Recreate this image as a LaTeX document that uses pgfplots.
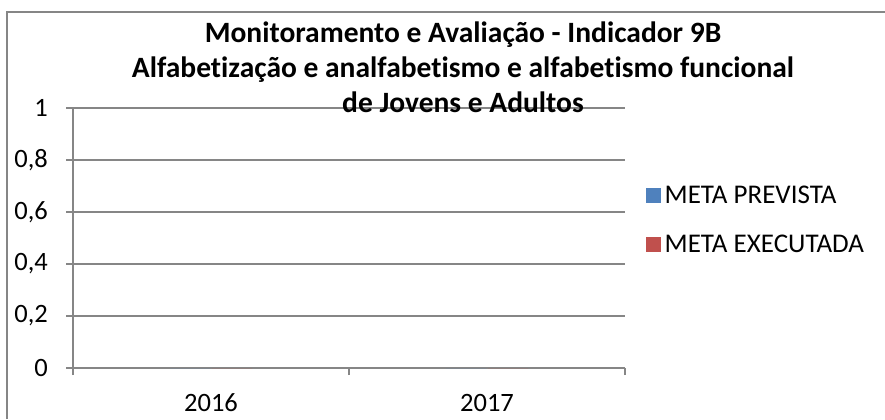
\documentclass[border=0pt]{standalone}
\usepackage{fontspec}
\setmainfont{Carlito}[Ligatures=NoCommon]
\usepackage{pgfplots}
\pgfplotsset{compat=1.18}
\definecolor{axgray}{HTML}{868686}
\definecolor{serA}{HTML}{4F81BD}
\definecolor{serB}{HTML}{C0504D}
\begin{document}
\begin{tikzpicture}[x=1bp,y=1bp,font=\fontsize{26.5bp}{31bp}\selectfont]
\useasboundingbox (0,0) rectangle (885,419);
\draw[axgray, line width=1.5bp] (7,0) -- (7,407) -- (885,407);
\begin{axis}[
  at={(73bp,51bp)}, anchor=south west,
  scale only axis, width=552bp, height=260bp,
  xmin=0, xmax=2, ymin=0, ymax=1,
  axis x line*=bottom, axis y line*=left,
  axis line style={axgray, line width=1.3bp},
  xtick={0,1,2}, xticklabels={},
  extra x ticks={0.5,1.5}, extra x tick labels={2016,2017},
  extra x tick style={major tick length=0pt, grid=none},
  ytick={0,0.2,0.4,0.6,0.8,1},
  yticklabels={0,{0,2},{0,4},{0,6},{0,8},1},
  ymajorgrids, grid style={axgray, line width=1.3bp},
  tick align=outside, major tick length=7bp,
  every tick/.style={axgray, line width=1.3bp},
  yticklabel style={anchor=east, xshift=-18bp, text=black, inner sep=0pt},
  xticklabel style={anchor=center, yshift=-35bp, text=black},
  ybar, bar width=40bp,
  legend style={at={(axis description cs:1.038,0.57)}, anchor=west, draw=none, fill=none, inner sep=0pt, row sep=26bp, font=\fontsize{27bp}{31bp}\selectfont,
    nodes={inner xsep=3.5bp}},
  legend cell align=left,
  legend image code/.code={\draw[#1,draw=none] (0bp,-7.5bp) rectangle (15bp,7.5bp);},
]
\addplot[fill=serA, draw=none] coordinates {(0.5,0) (1.5,0)};
\addlegendentry{META PREVISTA}
\addplot[fill=serB, draw=none] coordinates {(0.5,0) (1.5,0)};
\addlegendentry{META EXECUTADA}
\end{axis}
\node[align=center, anchor=north, inner sep=0pt, font=\bfseries\fontsize{29.5bp}{35bp}\selectfont] at (463,397)
 {Monitoramento e Avaliação - Indicador 9B\\Alfabetização e analfabetismo e alfabetismo funcional\\de Jovens e Adultos};
\end{tikzpicture}
\end{document}
